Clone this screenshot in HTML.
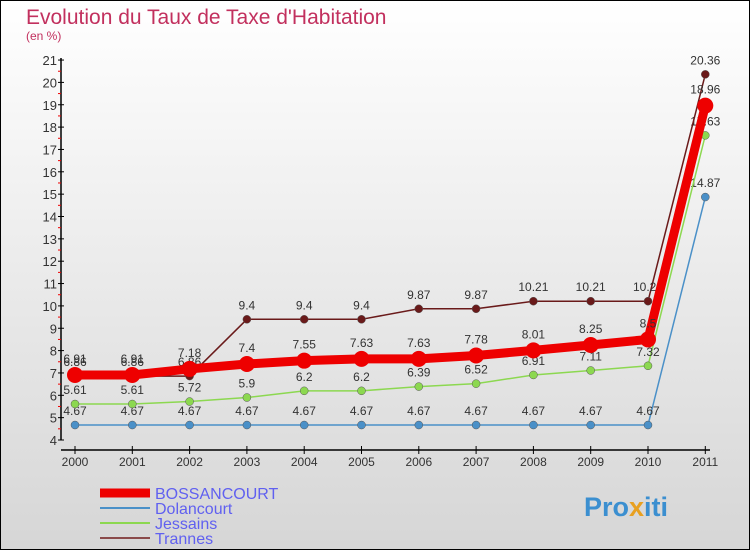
<!DOCTYPE html>
<html><head><meta charset="utf-8"><style>
body{margin:0}
#c{position:relative;width:750px;height:550px;box-sizing:border-box;border:1px solid #000;background:linear-gradient(#fff,#d6d6d6);font-family:"Liberation Sans",sans-serif;overflow:hidden}
</style></head><body>
<div id="c">
<svg id="s" width="750" height="550" style="position:absolute;left:-1px;top:-1px">
<text x="26" y="24" font-size="21" fill="#c2305e">Evolution du Taux de Taxe d'Habitation</text>
<text x="26" y="40" font-size="12" fill="#c2305e">(en %)</text>
<g id="axes"></g><g id="series"></g><g id="legend"></g>
<text x="584" y="516" font-size="27" font-weight="bold" fill="#3b8fd0">Pro<tspan fill="#e8a020">x</tspan>iti</text>
</svg></div>
<script>
const years=["2000","2001","2002","2003","2004","2005","2006","2007","2008","2009","2010","2011"];
const bossancourt=[6.91,6.91,7.18,7.4,7.55,7.63,7.63,7.78,8.01,8.25,8.5,18.96];
const dolancourt=[4.67,4.67,4.67,4.67,4.67,4.67,4.67,4.67,4.67,4.67,4.67,14.87];
const jessains=[5.61,5.61,5.72,5.9,6.2,6.2,6.39,6.52,6.91,7.11,7.32,17.63];
const trannes=[6.86,6.86,6.86,9.4,9.4,9.4,9.87,9.87,10.21,10.21,10.21,20.36];
const yTicks=[4,5,6,7,8,9,10,11,12,13,14,15,16,17,18,19,20,21];
const NS="http://www.w3.org/2000/svg";
const x=i=>75+i*57.3, y=v=>440-(v-4)*22.35;
function mk(t,a,p){const e=document.createElementNS(NS,t);for(const k in a)e.setAttribute(k,a[k]);p.appendChild(e);return e;}
const ax=document.getElementById('axes');
let l=mk('line',{x1:61,y1:58,x2:61,y2:440,stroke:'#000','stroke-width':1.5},ax);


l=mk('line',{x1:61,y1:450,x2:710,y2:450,stroke:'#000','stroke-width':1.5},ax);


yTicks.forEach(v=>{mk('line',{x1:58,x2:64,y1:y(v),y2:y(v),stroke:'#000'},ax);
 if(v<21)mk('line',{x1:58,x2:61,y1:y(v+0.5),y2:y(v+0.5),stroke:'#e00'},ax);
 const t=mk('text',{x:57,y:y(v)+5,'text-anchor':'end','font-size':13,fill:'#333'},ax);t.textContent=v;
 
 });
years.forEach((yr,i)=>{mk('line',{x1:x(i),x2:x(i),y1:446,y2:454,stroke:'#000'},ax);
 const t=mk('text',{x:x(i),y:466,'text-anchor':'middle','font-size':12,fill:'#333'},ax);t.textContent=yr;
 
 });
const sg=document.getElementById('series');
const defs=[[dolancourt,'#4a90c8',1.5,4,'dolancourt',-10],[jessains,'#8cd850',1.5,4,'jessains',-10],[trannes,'#6a1a1a',1.5,4,'trannes',-10],[bossancourt,'#ee0000',9,8,'bossancourt',-12]];
defs.forEach(([d,c,w,r,n,off])=>{const g=mk('g',{},sg);
 
 
 const p=mk('polyline',{points:d.map((v,i)=>x(i)+','+y(v)).join(' '),fill:'none',stroke:c,'stroke-width':w},g);
 
 
 d.forEach((v,i)=>{const m=mk('circle',{cx:x(i),cy:y(v),r:r,fill:c,stroke:n=='bossancourt'?'none':'#555','stroke-width':0.5},g);
  
  
  const t=mk('text',{x:x(i),y:y(v)+off,'text-anchor':'middle','font-size':12,fill:'#333'},g);t.textContent=v;
  
  });});
const lg=document.getElementById('legend');
[['BOSSANCOURT','#ee0000',9],['Dolancourt','#4a90c8',2],['Jessains','#8cd850',2],['Trannes','#8a4a4a',2]].forEach(([n,c,w],i)=>{
 const yy=493+i*15;const g=mk('g',{},lg);
 
 
 mk('line',{x1:100,x2:150,y1:yy,y2:yy,stroke:c,'stroke-width':w},g);
 const t=mk('text',{x:155,y:yy+6,'font-size':16,fill:'#6060f0'},g);t.textContent=n;});
</script></body></html>
